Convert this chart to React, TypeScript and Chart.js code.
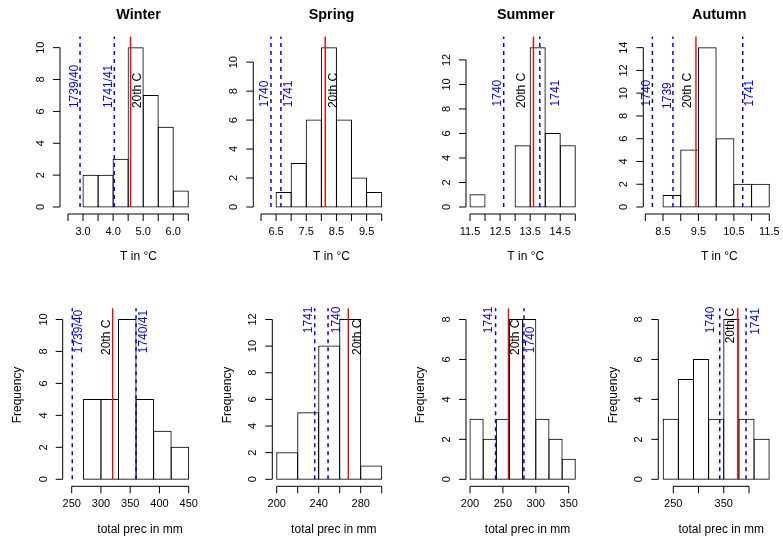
import React, { useEffect, useRef } from "react";
import { Chart, registerables } from "chart.js";

Chart.register(...registerables);

const FONT = '"Liberation Sans", Arial, Helvetica, sans-serif';

// ---------------- data ----------------
const seasons = ["Winter", "Spring", "Summer", "Autumn"];
const tempAxisTitle = "T in °C";
const precAxisTitle = "total prec in mm";
const freqAxisTitle = "Frequency";

const tempBinStarts = [3.0, 6.5, 11.5, 8.5];
const tempBinWidth = 0.5;
const precBinStarts = [270, 200, 200, 230];
const precBinWidths = [30, 20, 20, 30];

const winterTempCounts = [2, 2, 3, 10, 7, 5, 1];
const springTempCounts = [1, 3, 6, 11, 6, 2, 1];
const summerTempCounts = [1, 0, 0, 5, 13, 6, 5];
const autumnTempCounts = [1, 5, 14, 6, 2, 2];

const winterPrecCounts = [5, 5, 10, 5, 3, 2];
const springPrecCounts = [2, 5, 10, 12, 1];
const summerPrecCounts = [3, 2, 3, 8, 8, 3, 2, 1];
const autumnPrecCounts = [3, 5, 6, 3, 8, 3, 2];

const winterTempMarks = [2.9, 4.04, 4.58];
const winterTempMarkLabels = ["1739/40", "1741/41", "20th C"];
const springTempMarks = [6.33, 6.66, 8.13];
const springTempMarkLabels = ["1740", "1741", "20th C"];
const summerTempMarks = [12.62, 13.61, 13.82];
const summerTempMarkLabels = ["1740", "20th C", "1741"];
const autumnTempMarks = [8.2, 8.78, 9.43, 10.75];
const autumnTempMarkLabels = ["1740", "1739", "20th C", "1741"];

const winterPrecMarks = [251, 320, 360];
const winterPrecMarkLabels = ["1739/40", "20th C", "1740/41"];
const springPrecMarks = [236.2, 248.9, 268.2];
const springPrecMarkLabels = ["1741", "1740", "20th C"];
const summerPrecMarks = [238.9, 258.4, 282];
const summerPrecMarkLabels = ["1741", "20th C", "1740"];
const autumnPrecMarks = [342, 377.8, 394.2];
const autumnPrecMarkLabels = ["1740", "20th C", "1741"];

const winterTempTicks = [2.5, 3.0, 3.5, 4.0, 4.5, 5.0, 5.5, 6.0, 6.5];
const winterTempTickLabels = ["", "3.0", "", "4.0", "", "5.0", "", "6.0", ""];
const springTempTicks = [6.0, 6.5, 7.0, 7.5, 8.0, 8.5, 9.0, 9.5, 10.0];
const springTempTickLabels = ["", "6.5", "", "7.5", "", "8.5", "", "9.5", ""];
const summerTempTicks = [11.5, 12.0, 12.5, 13.0, 13.5, 14.0, 14.5, 15.0];
const summerTempTickLabels = ["11.5", "", "12.5", "", "13.5", "", "14.5", ""];
const autumnTempTicks = [8.0, 8.5, 9.0, 9.5, 10.0, 10.5, 11.0, 11.5];
const autumnTempTickLabels = ["", "8.5", "", "9.5", "", "10.5", "", "11.5"];

const winterPrecTicks = [250, 300, 350, 400, 450];
const winterPrecTickLabels = ["250", "300", "350", "400", "450"];
const springPrecTicks = [200, 220, 240, 260, 280, 300];
const springPrecTickLabels = ["200", "", "240", "", "280", ""];
const summerPrecTicks = [200, 250, 300, 350];
const summerPrecTickLabels = ["200", "250", "300", "350"];
const autumnPrecTicks = [250, 300, 350, 400];
const autumnPrecTickLabels = ["250", "", "350", ""];

const yTicksTo8 = [0, 2, 4, 6, 8];
const yTicksTo10 = [0, 2, 4, 6, 8, 10];
const yTicksTo12 = [0, 2, 4, 6, 8, 10, 12];
const yTicksTo14 = [0, 2, 4, 6, 8, 10, 12, 14];

const REF_LABEL = "20th C";
const HEADROOM = 1.07;

// ---------------- layout (pixels) ----------------
type Layout = {
  cx: number; cy: number; cw: number; ch: number;
  axisX: number; v0: number; p0: number; v1: number; p1: number;
  plotRight: number; plotTop: number; y0: number; titleX: number;
  labelDx: number[]; labelFrac: number[];
};

const TOP_Y0 = 207;
const TOP_TOP = 36.5;
const BOT_Y0 = 479.3;
const BOT_TOP = 308.3;

const layouts: Layout[] = [
  { cx: 0, cy: 0, cw: 215, ch: 270, axisX: 60, v0: 2.5, p0: 68, v1: 6.5, p1: 188.3, plotRight: 196, plotTop: TOP_TOP, y0: TOP_Y0, titleX: 138.5, labelDx: [-5.5, -6, 7.5], labelFrac: [0.58, 0.58, 0.58] },
  { cx: 195, cy: 0, cw: 215, ch: 270, axisX: 253.3, v0: 6.0, p0: 261, v1: 10.0, p1: 381.7, plotRight: 389, plotTop: TOP_TOP, y0: TOP_Y0, titleX: 331.5, labelDx: [-6, 8, 8], labelFrac: [0.585, 0.585, 0.58] },
  { cx: 390, cy: 0, cw: 215, ch: 270, axisX: 466, v0: 11.5, p0: 470, v1: 15.0, p1: 575.3, plotRight: 582, plotTop: TOP_TOP, y0: TOP_Y0, titleX: 525.7, labelDx: [-6, -12, 15.5], labelFrac: [0.59, 0.58, 0.59] },
  { cx: 585, cy: 0, cw: 198, ch: 270, axisX: 643.3, v0: 8.0, p0: 645.3, v1: 11.5, p1: 769.3, plotRight: 776, plotTop: TOP_TOP, y0: TOP_Y0, titleX: 719.3, labelDx: [-6, -5.7, -8, 7.3], labelFrac: [0.59, 0.575, 0.58, 0.59] },
  { cx: 0, cy: 269, cw: 215, ch: 270, axisX: 62.7, v0: 250, p0: 71.7, v1: 450, p1: 188.7, plotRight: 196, plotTop: BOT_TOP, y0: BOT_Y0, titleX: 140, labelDx: [6.7, -6, 7.3], labelFrac: [0.737, 0.727, 0.737] },
  { cx: 195, cy: 269, cw: 215, ch: 270, axisX: 272.3, v0: 200, p0: 276.7, v1: 300, p1: 381.7, plotRight: 389, plotTop: BOT_TOP, y0: BOT_Y0, titleX: 333.8, labelDx: [-6.4, 8.7, 9], labelFrac: [0.854, 0.854, 0.727] },
  { cx: 390, cy: 269, cw: 215, ch: 270, axisX: 466, v0: 200, p0: 470, v1: 350, p1: 568.7, plotRight: 582, plotTop: BOT_TOP, y0: BOT_Y0, titleX: 527.5, labelDx: [-7, 7.3, 7], labelFrac: [0.854, 0.727, 0.737] },
  { cx: 585, cy: 269, cw: 198, ch: 270, axisX: 658.3, v0: 250, p0: 673.3, v1: 400, p1: 749, plotRight: 776, plotTop: BOT_TOP, y0: BOT_Y0, titleX: 721.2, labelDx: [-8.7, -7.3, 9.7], labelFrac: [0.854, 0.795, 0.845] },
];

type Panel = {
  title: string; xTitle: string; yTitle: string;
  binStart: number; binWidth: number; counts: number[];
  marks: number[]; markLabels: string[];
  xTicks: number[]; xTickLabels: string[]; yTicks: number[];
};

const panels: Panel[] = [
  { title: seasons[0], xTitle: tempAxisTitle, yTitle: "", binStart: tempBinStarts[0], binWidth: tempBinWidth, counts: winterTempCounts, marks: winterTempMarks, markLabels: winterTempMarkLabels, xTicks: winterTempTicks, xTickLabels: winterTempTickLabels, yTicks: yTicksTo10 },
  { title: seasons[1], xTitle: tempAxisTitle, yTitle: "", binStart: tempBinStarts[1], binWidth: tempBinWidth, counts: springTempCounts, marks: springTempMarks, markLabels: springTempMarkLabels, xTicks: springTempTicks, xTickLabels: springTempTickLabels, yTicks: yTicksTo10 },
  { title: seasons[2], xTitle: tempAxisTitle, yTitle: "", binStart: tempBinStarts[2], binWidth: tempBinWidth, counts: summerTempCounts, marks: summerTempMarks, markLabels: summerTempMarkLabels, xTicks: summerTempTicks, xTickLabels: summerTempTickLabels, yTicks: yTicksTo12 },
  { title: seasons[3], xTitle: tempAxisTitle, yTitle: "", binStart: tempBinStarts[3], binWidth: tempBinWidth, counts: autumnTempCounts, marks: autumnTempMarks, markLabels: autumnTempMarkLabels, xTicks: autumnTempTicks, xTickLabels: autumnTempTickLabels, yTicks: yTicksTo14 },
  { title: "", xTitle: precAxisTitle, yTitle: freqAxisTitle, binStart: precBinStarts[0], binWidth: precBinWidths[0], counts: winterPrecCounts, marks: winterPrecMarks, markLabels: winterPrecMarkLabels, xTicks: winterPrecTicks, xTickLabels: winterPrecTickLabels, yTicks: yTicksTo10 },
  { title: "", xTitle: precAxisTitle, yTitle: freqAxisTitle, binStart: precBinStarts[1], binWidth: precBinWidths[1], counts: springPrecCounts, marks: springPrecMarks, markLabels: springPrecMarkLabels, xTicks: springPrecTicks, xTickLabels: springPrecTickLabels, yTicks: yTicksTo12 },
  { title: "", xTitle: precAxisTitle, yTitle: freqAxisTitle, binStart: precBinStarts[2], binWidth: precBinWidths[2], counts: summerPrecCounts, marks: summerPrecMarks, markLabels: summerPrecMarkLabels, xTicks: summerPrecTicks, xTickLabels: summerPrecTickLabels, yTicks: yTicksTo8 },
  { title: "", xTitle: precAxisTitle, yTitle: freqAxisTitle, binStart: precBinStarts[3], binWidth: precBinWidths[3], counts: autumnPrecCounts, marks: autumnPrecMarks, markLabels: autumnPrecMarkLabels, xTicks: autumnPrecTicks, xTickLabels: autumnPrecTickLabels, yTicks: yTicksTo8 },
];

function rotatedText(ctx: CanvasRenderingContext2D, text: string, x: number, y: number, align: CanvasTextAlign) {
  ctx.save();
  ctx.translate(x, y);
  ctx.rotate(-Math.PI / 2);
  ctx.textAlign = align;
  ctx.textBaseline = "middle";
  ctx.fillText(text, 0, 0);
  ctx.restore();
}

function makePlugin(p: Panel, L: Layout) {
  return {
    id: "rHist",
    afterDatasetsDraw(chart: any) {
      const ctx: CanvasRenderingContext2D = chart.ctx;
      const xs = chart.scales.x;
      const ys = chart.scales.y;
      const y0 = ys.getPixelForValue(0);
      const yTop = ys.getPixelForValue(ys.max);
      ctx.save();

      // vertical reference lines
      p.marks.forEach((v, i) => {
        const px = xs.getPixelForValue(v);
        const isRef = p.markLabels[i] === REF_LABEL;
        ctx.beginPath();
        ctx.lineWidth = isRef ? 1.4 : 1.5;
        ctx.strokeStyle = isRef ? "#ff0000" : "#0000ff";
        ctx.setLineDash(isRef ? [] : [4, 4]);
        ctx.moveTo(px, y0);
        ctx.lineTo(px, yTop);
        ctx.stroke();
      });
      ctx.setLineDash([]);

      // labels next to the lines
      ctx.font = `12px ${FONT}`;
      p.marks.forEach((v, i) => {
        const isRef = p.markLabels[i] === REF_LABEL;
        ctx.fillStyle = isRef ? "#000000" : "#0000ff";
        const px = xs.getPixelForValue(v) + L.labelDx[i];
        const py = ys.getPixelForValue(ys.max * L.labelFrac[i]);
        rotatedText(ctx, p.markLabels[i], px, py, "left");
      });

      ctx.strokeStyle = "#000";
      ctx.fillStyle = "#000";
      ctx.lineWidth = 1;

      // y axis
      const ax = chart.chartArea.left;
      const yFirst = ys.getPixelForValue(p.yTicks[0]);
      const yLast = ys.getPixelForValue(p.yTicks[p.yTicks.length - 1]);
      ctx.beginPath();
      ctx.moveTo(ax, yFirst);
      ctx.lineTo(ax, yLast);
      p.yTicks.forEach((t) => {
        const ty = ys.getPixelForValue(t);
        ctx.moveTo(ax, ty);
        ctx.lineTo(ax - 7, ty);
      });
      ctx.stroke();
      ctx.font = `11px ${FONT}`;
      p.yTicks.forEach((t) => {
        rotatedText(ctx, String(t), ax - 19, ys.getPixelForValue(t), "center");
      });

      // x axis
      const ay = y0 + 7;
      const xFirst = xs.getPixelForValue(p.xTicks[0]);
      const xLast = xs.getPixelForValue(p.xTicks[p.xTicks.length - 1]);
      ctx.beginPath();
      ctx.moveTo(xFirst, ay);
      ctx.lineTo(xLast, ay);
      p.xTicks.forEach((t) => {
        const tx = xs.getPixelForValue(t);
        ctx.moveTo(tx, ay);
        ctx.lineTo(tx, ay + 7);
      });
      ctx.stroke();
      ctx.textAlign = "center";
      ctx.textBaseline = "middle";
      p.xTicks.forEach((t, i) => {
        if (p.xTickLabels[i]) ctx.fillText(p.xTickLabels[i], xs.getPixelForValue(t), ay + 18);
      });

      // axis titles and main title
      const tx = L.titleX - L.cx;
      ctx.font = `12px ${FONT}`;
      ctx.fillText(p.xTitle, tx, ay + 43);
      if (p.yTitle) rotatedText(ctx, p.yTitle, ax - 45, 395 - L.cy, "center");
      if (p.title) {
        ctx.font = `bold 14.4px ${FONT}`;
        ctx.fillText(p.title, tx, 15 - L.cy);
      }
      ctx.restore();
    },
  };
}

function HistPanel({ p, L }: { p: Panel; L: Layout }) {
  const ref = useRef<HTMLCanvasElement>(null);
  useEffect(() => {
    const k = (L.p1 - L.p0) / (L.v1 - L.v0);
    const xMin = L.v0 + (L.axisX - L.p0) / k;
    const xMax = L.v0 + (L.plotRight - L.p0) / k;
    const maxCount = Math.max(...p.counts);
    const chart = new Chart(ref.current as HTMLCanvasElement, {
      type: "bar",
      data: {
        datasets: [
          {
            data: p.counts.map((c, i) => ({ x: p.binStart + (i + 0.5) * p.binWidth, y: c })),
            backgroundColor: "rgba(0,0,0,0)",
            borderColor: "#000000",
            borderWidth: 0.001,
            inflateAmount: 0.5,
            borderSkipped: false,
            barPercentage: 1,
            categoryPercentage: 1,
            clip: 10,
          } as any,
        ],
      },
      options: {
        responsive: false,
        animation: false,
        events: [],
        layout: {
          padding: {
            left: L.axisX - L.cx,
            right: L.cx + L.cw - L.plotRight,
            top: L.plotTop - L.cy,
            bottom: L.cy + L.ch - L.y0,
          },
        },
        plugins: { legend: { display: false }, tooltip: { enabled: false }, title: { display: false } },
        scales: {
          x: {
            type: "linear",
            min: xMin,
            max: xMax,
            display: false,
            offset: false,
            afterBuildTicks: (axis: any) => {
              axis.ticks = [{ value: xMin }, { value: xMax }];
            },
          },
          y: { type: "linear", min: 0, max: maxCount * HEADROOM, display: false },
        },
      } as any,
      plugins: [makePlugin(p, L)],
    });
    return () => chart.destroy();
  }, []);
  return (
    <canvas
      ref={ref}
      width={L.cw}
      height={L.ch}
      style={{ position: "absolute", left: L.cx, top: L.cy, width: L.cw, height: L.ch }}
    />
  );
}

export default function App() {
  return (
    <div style={{ position: "absolute", left: 0, top: 0, width: 783, height: 539, background: "#ffffff", overflow: "hidden" }}>
      {panels.map((p, i) => (
        <HistPanel key={i} p={p} L={layouts[i]} />
      ))}
    </div>
  );
}
